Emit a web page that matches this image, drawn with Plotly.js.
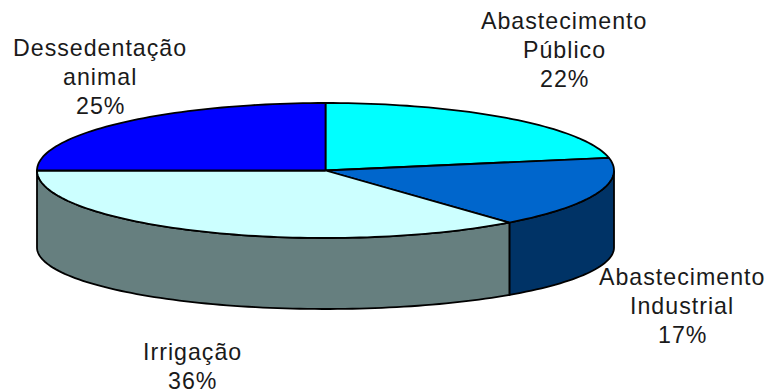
<!DOCTYPE html>
<html>
<head>
<meta charset="utf-8">
<script src="https://cdn.plot.ly/plotly-3.0.1.min.js"></script>
<style>
  html, body { margin: 0; padding: 0; background: #fff; }
  #chart { width: 770px; height: 391px; }
  .annotation-text { letter-spacing: 1px; }
</style>
</head>
<body>
<div id="chart"></div>
<script>
// Water use by sector, drawn as a tilted pie with a raised rim.
const categories = ["Abastecimento<br>Público", "Abastecimento<br>Industrial", "Irrigação", "Dessedentação<br>animal"];
const shares = [22, 17, 36, 25];
const topColors = ["#00FFFF", "#0066CC", "#CCFFFF", "#0000FF"];
const rimColors = ["#008080", "#003366", "#667F7F", "#000080"];
const labelX = [564, 682, 192, 100];
const labelY = [6, 262, 337, 33];
const linePitch = 29;

// Ellipses of the upper face and the lower rim edge, in pixel-like axis units.
const cx = 325.5, rx = 288.5;
const topCy = 170.5, topRy = 67.5;
const lowCy = 247.5, lowRy = 61.5;

const total = shares.reduce((a, b) => a + b, 0);

function arc(cy, ry, from, to) {
  const xs = [], ys = [];
  const steps = Math.max(2, Math.ceil(Math.abs(to - from) / 1.5));
  for (let i = 0; i <= steps; i++) {
    const a = (from + (to - from) * i / steps) * Math.PI / 180;
    xs.push(cx + rx * Math.sin(a));
    ys.push(cy - ry * Math.cos(a));
  }
  return { xs, ys };
}

function polygon(xs, ys, fill) {
  return {
    type: "scatter", mode: "lines", x: xs, y: ys,
    fill: "toself", fillcolor: fill,
    line: { color: "#000", width: 1.8, simplify: false },
    hoverinfo: "skip", showlegend: false
  };
}

const traces = [];
const faces = [];
let start = 0;
shares.forEach((share, i) => {
  const end = start + share / total * 360;

  // The rim is only visible along the front half of the ellipse.
  const from = Math.max(start, 90), to = Math.min(end, 270);
  if (to > from) {
    const upper = arc(topCy, topRy, from, to);
    const lower = arc(lowCy, lowRy, to, from);
    traces.push(polygon(
      upper.xs.concat(lower.xs, upper.xs[0]),
      upper.ys.concat(lower.ys, upper.ys[0]),
      rimColors[i]));
  }

  const edge = arc(topCy, topRy, start, end);
  faces.push(polygon(
    [cx].concat(edge.xs, cx),
    [topCy].concat(edge.ys, topCy),
    topColors[i]));
  start = end;
});

// Each label line is its own annotation so the line pitch stays fixed.
const annotations = [];
categories.forEach((name, i) => {
  name.split("<br>").concat(shares[i] + "%").forEach((line, k) => {
    annotations.push({
      x: labelX[i], y: labelY[i] + k * linePitch,
      xref: "x", yref: "y",
      xanchor: "center", yanchor: "top", align: "center",
      showarrow: false,
      text: line,
      font: { family: "Liberation Sans, Arial, sans-serif", size: 23.2, color: "#1a1a1a" }
    });
  });
});

const hiddenAxis = { visible: false, fixedrange: true };

Plotly.newPlot("chart", traces.concat(faces), {
  width: 770, height: 391,
  margin: { l: 0, r: 0, t: 0, b: 0 },
  paper_bgcolor: "#fff", plot_bgcolor: "#fff",
  xaxis: Object.assign({ range: [0, 770] }, hiddenAxis),
  yaxis: Object.assign({ range: [391, 0] }, hiddenAxis),
  annotations,
  showlegend: false
}, { displayModeBar: false, staticPlot: true });
</script>
</body>
</html>
